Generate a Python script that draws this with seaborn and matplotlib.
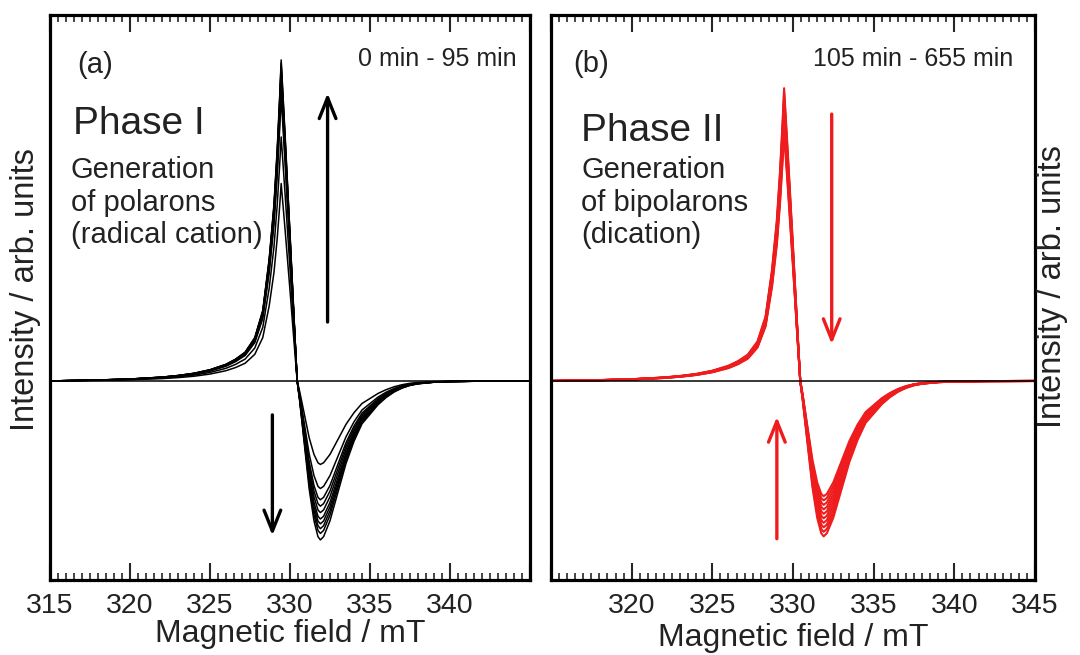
import numpy as np
import pandas as pd
import seaborn as sns
import matplotlib.pyplot as plt

# lineshape of one EPR derivative spectrum (peak = +1, trough = -1)
shape_field = [315, 318, 320, 322, 323, 324, 325, 326, 326.6, 327.2, 327.8, 328.3, 328.7,
               329.0, 329.2, 329.35, 329.45, 329.7, 330.0, 330.25, 330.45, 330.6, 330.9, 331.2,
               331.5, 331.75, 331.9, 332.1, 332.5, 333.0, 333.5, 334.0, 334.5, 335.0, 335.5,
               336.0, 336.5, 337.0, 337.5, 338.0, 339.0, 340.0, 342.0, 345.0]
shape_value = [0, 0.003, 0.006, 0.012, 0.017, 0.024, 0.035, 0.052, 0.068, 0.09, 0.135, 0.22, 0.38,
               0.55, 0.72, 0.88, 1.0, 0.76, 0.46, 0.2, 0.0, -0.12, -0.4, -0.68,
               -0.88, -0.98, -1.0, -0.98, -0.88, -0.7, -0.52, -0.38, -0.27, -0.21, -0.15,
               -0.105, -0.07, -0.045, -0.028, -0.018, -0.008, -0.004, -0.001, 0]

# phase I (0 - 95 min): positive peak / negative trough heights
peaks_a = [1.00, 0.99, 0.98, 0.97, 0.955, 0.94, 0.91, 0.885, 0.76, 0.615]
troughs_a = [0.495, 0.475, 0.46, 0.445, 0.43, 0.41, 0.39, 0.37, 0.335, 0.26]

# phase II (105 - 655 min)
peaks_b = [0.912, 0.897, 0.881, 0.866, 0.85, 0.834, 0.819, 0.803, 0.787, 0.772]
troughs_b = [0.484, 0.47, 0.456, 0.442, 0.428, 0.414, 0.40, 0.386, 0.372, 0.359]

xticks = [315, 320, 325, 330, 335, 340, 345]


def build_df(peaks, troughs):
    rows = []
    shp = np.array(shape_value)
    for i, (p, t) in enumerate(zip(peaks, troughs)):
        y = np.where(shp > 0, shp * p, shp * t)
        for f, v in zip(shape_field, y):
            rows.append({"curve": i, "field": f, "intensity": v})
    return pd.DataFrame(rows)


sns.set_style("white")
plt.rcParams["font.family"] = ["Liberation Sans", "DejaVu Sans"]
txt = "#222222"
red = "#ee1c1c"

fig = plt.figure(figsize=(10.8, 6.55), dpi=100)
ax1 = fig.add_axes([0.0463, 0.1145, 0.4444, 0.8626])
ax2 = fig.add_axes([0.5102, 0.1145, 0.4481, 0.8626])

df_a = build_df(peaks_a, troughs_a)
df_b = build_df(peaks_b, troughs_b)

sns.lineplot(data=df_a, x="field", y="intensity", units="curve", estimator=None,
             color="black", lw=1.1, sort=False, ax=ax1)
sns.lineplot(data=df_b, x="field", y="intensity", units="curve", estimator=None,
             color=red, lw=1.5, sort=False, ax=ax2)

for ax in (ax1, ax2):
    ax.axhline(0, color="black", lw=1.1, zorder=3)
    ax.set_xlim(315, 345)
    ax.set_ylim(-0.62, 1.14)
    ax.set_yticks([])
    ax.set_xticks(xticks)
    ax.set_xticks(np.arange(315, 345.01, 0.5), minor=True)
    ax.tick_params(axis="x", which="both", direction="in", top=True, bottom=True,
                   labelsize=20.5, labelcolor=txt, pad=9)
    ax.tick_params(axis="x", which="major", length=12, width=1.5)
    ax.tick_params(axis="x", which="minor", length=5, width=1.2)
    for s in ax.spines.values():
        s.set_linewidth(2.3)
        s.set_color("black")
        s.set_visible(True)
    ax.set_xlabel("")
    ax.set_ylabel("")

ax1.set_xticklabels([str(t) if t != 345 else "" for t in xticks])
ax2.set_xticklabels([str(t) if t != 315 else "" for t in xticks])

# axis titles
fig.text(290 / 1080, 1 - 634 / 655, "Magnetic field / mT", ha="center", va="center",
         fontsize=23, color=txt)
fig.text(793 / 1080, 1 - 638 / 655, "Magnetic field / mT", ha="center", va="center",
         fontsize=23, color=txt)
fig.text(26 / 1080, 1 - 290 / 655, "Intensity / arb. units", ha="center", va="center",
         rotation=90, fontsize=23.5, color=txt)
fig.text(1052 / 1080, 1 - 287 / 655, "Intensity / arb. units", ha="center", va="center",
         rotation=90, fontsize=23.5, color=txt)

# panel annotations
ax1.text(0.057, 0.912, "(a)", transform=ax1.transAxes, fontsize=21, va="center", color=txt)
ax1.text(0.973, 0.923, "0 min - 95 min", transform=ax1.transAxes, fontsize=18,
         ha="right", va="center", color=txt)
ax1.text(0.047, 0.807, "Phase I", transform=ax1.transAxes, fontsize=28, va="center", color=txt)
ax1.text(0.043, 0.75, "Generation\nof polarons\n(radical cation)", transform=ax1.transAxes,
         fontsize=21, va="top", linespacing=1.2, color=txt)

ax2.text(0.045, 0.913, "(b)", transform=ax2.transAxes, fontsize=21, va="center", color=txt)
ax2.text(0.956, 0.923, "105 min - 655 min", transform=ax2.transAxes, fontsize=18,
         ha="right", va="center", color=txt)
ax2.text(0.062, 0.795, "Phase II", transform=ax2.transAxes, fontsize=28, va="center", color=txt)
ax2.text(0.062, 0.75, "Generation\nof bipolarons\n(dication)", transform=ax2.transAxes,
         fontsize=21, va="top", linespacing=1.2, color=txt)

# arrows
astyle = "->, head_length=1.5, head_width=0.6"
ax1.annotate("", xy=(332.35, 0.905), xytext=(332.35, 0.175),
             arrowprops=dict(arrowstyle=astyle, lw=2.4, color="black"))
ax1.annotate("", xy=(328.9, -0.49), xytext=(328.9, -0.097),
             arrowprops=dict(arrowstyle=astyle, lw=2.4, color="black"))
ax2.annotate("", xy=(332.4, 0.106), xytext=(332.4, 0.84),
             arrowprops=dict(arrowstyle=astyle, lw=2.4, color=red))
ax2.annotate("", xy=(329.0, -0.103), xytext=(329.0, -0.50),
             arrowprops=dict(arrowstyle=astyle, lw=2.4, color=red))

plt.savefig("out.png", dpi=100)
